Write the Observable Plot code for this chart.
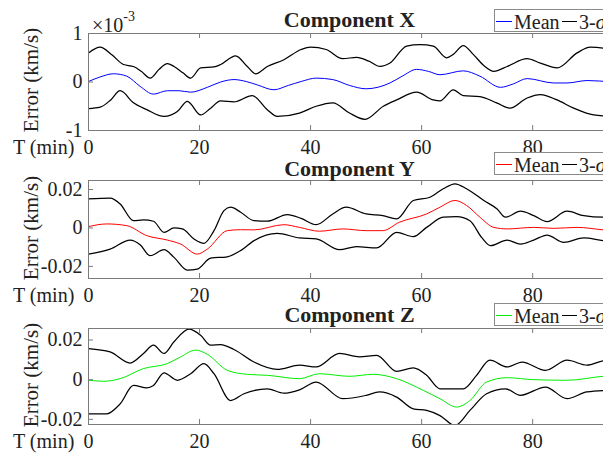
<!DOCTYPE html>
<html>
<head>
<meta charset="utf-8">
<script src="https://cdn.jsdelivr.net/npm/d3@7"></script>
<script src="https://cdn.jsdelivr.net/npm/@observablehq/plot@0.6"></script>
<style>
html,body{margin:0;padding:0;overflow:hidden;background:#fff;width:603px;height:454px;}
#wrap{position:relative;width:603px;height:454px;overflow:hidden;font-family:"Liberation Serif","Times New Roman",serif;color:#222;}
.panel{position:absolute;left:0;}
.title{position:absolute;left:0;width:700px;text-align:center;font-weight:bold;font-size:22px;line-height:22px;white-space:nowrap;}
.ylab{position:absolute;font-size:21px;line-height:21px;white-space:nowrap;transform:translate(-50%,-50%) rotate(-90deg);}
.tlab{position:absolute;font-size:20px;line-height:20px;white-space:nowrap;}
.legend{position:absolute;left:494px;width:140px;height:21px;border:1px solid #8a8a8a;background:#fff;font-size:20px;line-height:20px;white-space:nowrap;}
.legend .seg{position:absolute;top:11px;width:16px;height:0;}
.legend .txt{position:absolute;top:2px;}
.exp{position:absolute;left:92px;top:10px;font-size:20px;line-height:20px;white-space:nowrap;}
.exp sup{font-size:14px;position:relative;top:-3px;}
</style>
</head>
<body>
<div id="wrap"></div>
<script>
// ---------- data (time in min, error) ----------
const xTickValues = [0, 20, 40, 60, 80];
const tMax = 94.2;

// Component X (units of 1e-3 km/s)
const xUpper = [[0,0.60],[2.1,0.72],[4.2,0.56],[6.3,0.36],[8.1,0.32],[9.5,0.22],[11.1,0.08],[12.7,0.26],[14.2,0.38],[15.4,0.32],[17,0.19],[18.4,0.08],[20.2,0.29],[22.6,0.31],[23.8,0.36],[26.5,0.54],[28.6,0.32],[30.1,0.17],[32.2,0.32],[35.2,0.46],[38.3,0.67],[40,0.72],[42.8,0.67],[45.8,0.48],[48.3,0.51],[50.5,0.43],[52.5,0.32],[54.3,0.39],[57.3,0.74],[59.7,0.77],[62.1,0.74],[64.5,0.50],[65.7,0.57],[67.5,0.75],[69.3,0.57],[71.2,0.34],[73,0.22],[75.4,0.32],[79,0.48],[81.4,0.39],[84.4,0.29],[88,0.60],[90.4,0.72],[92.7,0.70],[94.2,0.66]];
const xMean = [[0,0.01],[2,0.10],[4.5,0.17],[6.9,0.12],[9.3,-0.09],[11.7,-0.25],[14.2,-0.18],[16.3,-0.18],[18.4,-0.21],[21.4,-0.11],[23.8,0.0],[26.2,0.05],[28.4,0.01],[30.4,-0.06],[33.4,-0.16],[36,-0.07],[38.3,0.01],[41,0.08],[44,0.05],[47,-0.07],[50,-0.14],[54.3,-0.02],[56.5,0.12],[59.1,0.26],[61.2,0.22],[63.3,0.15],[67.5,0.23],[70.5,0.12],[74.2,-0.11],[76.5,-0.04],[79,0.07],[83.8,-0.02],[86.2,-0.02],[89.8,0.03],[94.2,0.0]];
const xLower = [[0,-0.55],[2.1,-0.52],[4,-0.37],[5.7,-0.18],[8.1,-0.43],[10.5,-0.57],[13.6,-0.71],[16,-0.61],[17.8,-0.40],[20.2,-0.68],[22,-0.54],[23.8,-0.39],[26.2,-0.41],[29.5,-0.28],[32.2,-0.57],[34,-0.71],[38,-0.64],[41,-0.50],[44,-0.43],[47,-0.64],[49.8,-0.77],[53.1,-0.50],[55.5,-0.37],[59.1,-0.21],[62.1,-0.37],[63.3,-0.39],[65.7,-0.16],[67.5,-0.28],[70.5,-0.30],[73.5,-0.43],[75.9,-0.54],[79,-0.33],[81.4,-0.26],[84.4,-0.37],[87.4,-0.54],[91,-0.68],[94.2,-0.71]];

// Component Y (km/s)
const yUpper = [[0,0.0151],[3.9,0.0155],[5.7,0.0125],[8.1,0.0038],[9.9,0.0042],[11.7,0.0035],[13.6,-0.0023],[15.4,0.0],[16.9,-0.0005],[19,-0.0057],[20.8,-0.0080],[22.6,-0.0014],[24.4,0.0090],[25.6,0.0108],[27.4,0.0082],[29.8,0.0038],[32.2,0.0035],[35.8,0.0070],[38.3,0.0050],[41,0.0017],[44,0.0073],[46.4,0.0108],[50,0.0073],[53,0.0064],[55.5,0.0047],[58.5,0.0143],[61.5,0.0160],[63.9,0.0204],[66,0.0230],[68.1,0.0204],[71.2,0.0143],[73.6,0.0099],[75.1,0.0056],[77.8,0.0087],[80.2,0.0064],[82.6,0.0033],[86.2,0.0087],[89.2,0.0064],[92.7,0.0056],[94.2,0.0056]];
const yMean = [[0,0.0007],[3.3,0.0021],[6.9,0.0012],[10.5,-0.0040],[14.2,-0.0063],[16.6,-0.0084],[19.6,-0.0136],[21.4,-0.0110],[25,-0.0014],[27.4,-0.0009],[29.8,-0.0010],[35.2,0.0017],[38,0.0003],[41.6,-0.0017],[45.8,-0.0005],[50,-0.0014],[53,-0.0014],[56,0.0030],[60.9,0.0073],[63.3,0.0108],[66,0.0143],[68.1,0.0117],[70.5,0.0056],[73,0.0003],[75.4,-0.0005],[80.2,0.0003],[83.8,-0.0002],[88,0.0003],[92.7,-0.0010],[94.2,-0.0014]];
const yLower = [[0,-0.0136],[3.9,-0.0110],[7.5,-0.0063],[9.3,-0.0087],[11.1,-0.0144],[13.6,-0.0113],[15.4,-0.0153],[17.8,-0.0219],[19.6,-0.0214],[22,-0.0157],[25,-0.0150],[27.4,-0.0118],[29.8,-0.0066],[34,-0.0028],[38,-0.0052],[41,-0.0057],[45.2,-0.0113],[48.3,-0.0097],[51.9,-0.0104],[55.5,-0.0023],[58.5,-0.0045],[60.9,0.0003],[63.9,0.0056],[66.3,0.0059],[68.7,0.0038],[70.8,-0.0049],[72.4,-0.0092],[75.4,-0.0063],[77.8,-0.0084],[80.2,-0.0063],[82.6,-0.0037],[85.6,-0.0075],[89.2,-0.0052],[92.7,-0.0066],[94.2,-0.0070]];

// Component Z (km/s)
const zUpper = [[0,0.0157],[3.9,0.0140],[7.5,0.0084],[9.9,0.0132],[11.7,0.0174],[13.6,0.0132],[15.4,0.0191],[18.1,0.0255],[20.2,0.0224],[22,0.0174],[23.8,0.0177],[26.2,0.0152],[29.8,0.0089],[34,0.0052],[38,0.0073],[41,0.0064],[45.2,0.0132],[48.8,0.0115],[51.9,0.0123],[55.5,0.0042],[58.5,0.0059],[60.9,0.0022],[63.3,-0.0046],[67.5,-0.0046],[69.9,0.0022],[72.3,0.0098],[75.4,0.0064],[78.1,0.0089],[82.3,0.0047],[86.2,0.0098],[89.8,0.0073],[92.7,0.0095],[94.2,0.0098]];
const zMean = [[0,-0.0003],[2.7,-0.0008],[5.7,0.0005],[9.9,0.0056],[14.2,0.0081],[16.6,0.0115],[19.3,0.0149],[21.4,0.0128],[25,0.0047],[28.6,0.0027],[32.2,0.0022],[38,0.0005],[41.6,0.0030],[47,0.0017],[51.3,0.0027],[55.5,0.0005],[60.3,-0.0054],[63.3,-0.0096],[66.3,-0.0138],[68.7,-0.0105],[71.7,-0.0012],[75.4,0.0010],[80.2,0.0],[86.2,-0.0003],[92.7,0.0017],[94.2,0.0020]];
const zLower = [[0,-0.0172],[3.3,-0.0172],[5.7,-0.0122],[8.1,-0.0029],[10.5,-0.0041],[11.7,-0.0029],[13.6,0.0034],[16,-0.0003],[18.4,0.0030],[20.8,0.0081],[22.6,0.0030],[25.6,-0.0105],[28,-0.0071],[32.2,-0.0046],[35.2,-0.0068],[38,-0.0051],[41,-0.0012],[45.8,-0.0096],[50,-0.0079],[52.4,-0.0062],[55.5,-0.0088],[58.5,-0.0147],[60.9,-0.0155],[63.3,-0.0181],[66,-0.0231],[68.7,-0.0155],[71.7,-0.0071],[75.1,-0.0046],[77.8,-0.0079],[82.3,-0.0037],[86.2,-0.0096],[89.8,-0.0062],[94.2,-0.0054]];

const titles = ["Component X", "Component Y", "Component Z"];
const meanColors = ["#0000ff", "#ff0000", "#00ee00"];
const yDomains = [[-1, 1], [-0.0263, 0.0247], [-0.0226, 0.0258]];
const yTickValues = [[-1, 0, 1], [-0.02, 0, 0.02], [-0.02, 0, 0.02]];
const series = [[xMean, xUpper, xLower], [yMean, yUpper, yLower], [zMean, zUpper, zLower]];

// ---------- layout ----------
const W = 611, ML = 88;
const layout = [
  {top: 0,   mt: 33, mb: 22, h: 152, titleBase: 27,  legendTop: 9},
  {top: 150, mt: 30, mb: 22, h: 150, titleBase: 176, legendTop: 152},
  {top: 300, mt: 28, mb: 30, h: 154, titleBase: 322, legendTop: 303}
];
const axisGray = "#7a7a7a";
const wrap = document.getElementById("wrap");

layout.forEach((L, i) => {
  const innerH = L.h - L.mt - L.mb;
  const innerW = W - ML;
  const [mean, up, lo] = series[i];
  const fmt = d => String(d);
  const chart = Plot.plot({
    width: W, height: L.h,
    marginLeft: ML, marginRight: 0, marginTop: L.mt, marginBottom: L.mb,
    style: {fontFamily: '"Liberation Serif","Times New Roman",serif', fontSize: "20px", color: "#222", background: "transparent", overflow: "visible", maxWidth: "none"},
    x: {domain: [0, tMax]},
    y: {domain: yDomains[i]},
    marks: [
      Plot.line(up, {x: d => d[0], y: d => d[1], stroke: "#000", strokeWidth: 1.25, curve: "monotone-x", clip: true}),
      Plot.line(lo, {x: d => d[0], y: d => d[1], stroke: "#000", strokeWidth: 1.25, curve: "monotone-x", clip: true}),
      Plot.line(mean, {x: d => d[0], y: d => d[1], stroke: meanColors[i], strokeWidth: 1, curve: "monotone-x", clip: true}),
      Plot.frame({stroke: axisGray, strokeWidth: 1}),
      Plot.tickX(xTickValues, {x: d => d, insetTop: innerH - 5, stroke: axisGray}),
      Plot.tickX(xTickValues, {x: d => d, insetBottom: innerH - 5, stroke: axisGray}),
      Plot.tickY(yTickValues[i], {y: d => d, insetRight: innerW - 5, stroke: axisGray}),
      Plot.axisX({ticks: xTickValues, tickSize: 0, tickPadding: 9, label: null, tickFormat: fmt}),
      Plot.axisY({ticks: yTickValues[i], tickSize: 0, tickPadding: 6, label: null, tickFormat: fmt})
    ]
  });
  const panel = document.createElement("div");
  panel.className = "panel";
  panel.style.top = L.top + "px";
  panel.appendChild(chart);
  wrap.appendChild(panel);

  // title
  const t = document.createElement("div");
  t.className = "title";
  t.textContent = titles[i];
  t.style.left = (ML + innerW / 2 - 350) + "px";
  t.style.top = (L.titleBase - 18.4) + "px";
  wrap.appendChild(t);

  // y label
  const yl = document.createElement("div");
  yl.className = "ylab";
  yl.textContent = "Error (km/s)";
  yl.style.left = "31px";
  yl.style.top = (L.top + L.mt + innerH / 2 - 1.5) + "px";
  wrap.appendChild(yl);

  // x label
  const xl = document.createElement("div");
  xl.className = "tlab";
  xl.textContent = "T (min)";
  xl.style.left = "13px";
  xl.style.top = (L.top + L.mt + innerH + 23.5 - 16.8) + "px";
  wrap.appendChild(xl);

  // legend
  const lg = document.createElement("div");
  lg.className = "legend";
  lg.style.top = L.legendTop + "px";
  lg.innerHTML =
    '<span class="seg" style="left:1px;border-top:1.4px solid ' + meanColors[i] + '"></span>' +
    '<span class="txt" style="left:19px">Mean</span>' +
    '<span class="seg" style="left:67px;width:15px;border-top:1.4px solid #000"></span>' +
    '<span class="txt" style="left:84px">3-<i>σ</i></span>';
  wrap.appendChild(lg);
});

// exponent label for Component X
const ex = document.createElement("div");
ex.className = "exp";
ex.innerHTML = "×10<sup>-3</sup>";
wrap.appendChild(ex);
</script>
</body>
</html>
